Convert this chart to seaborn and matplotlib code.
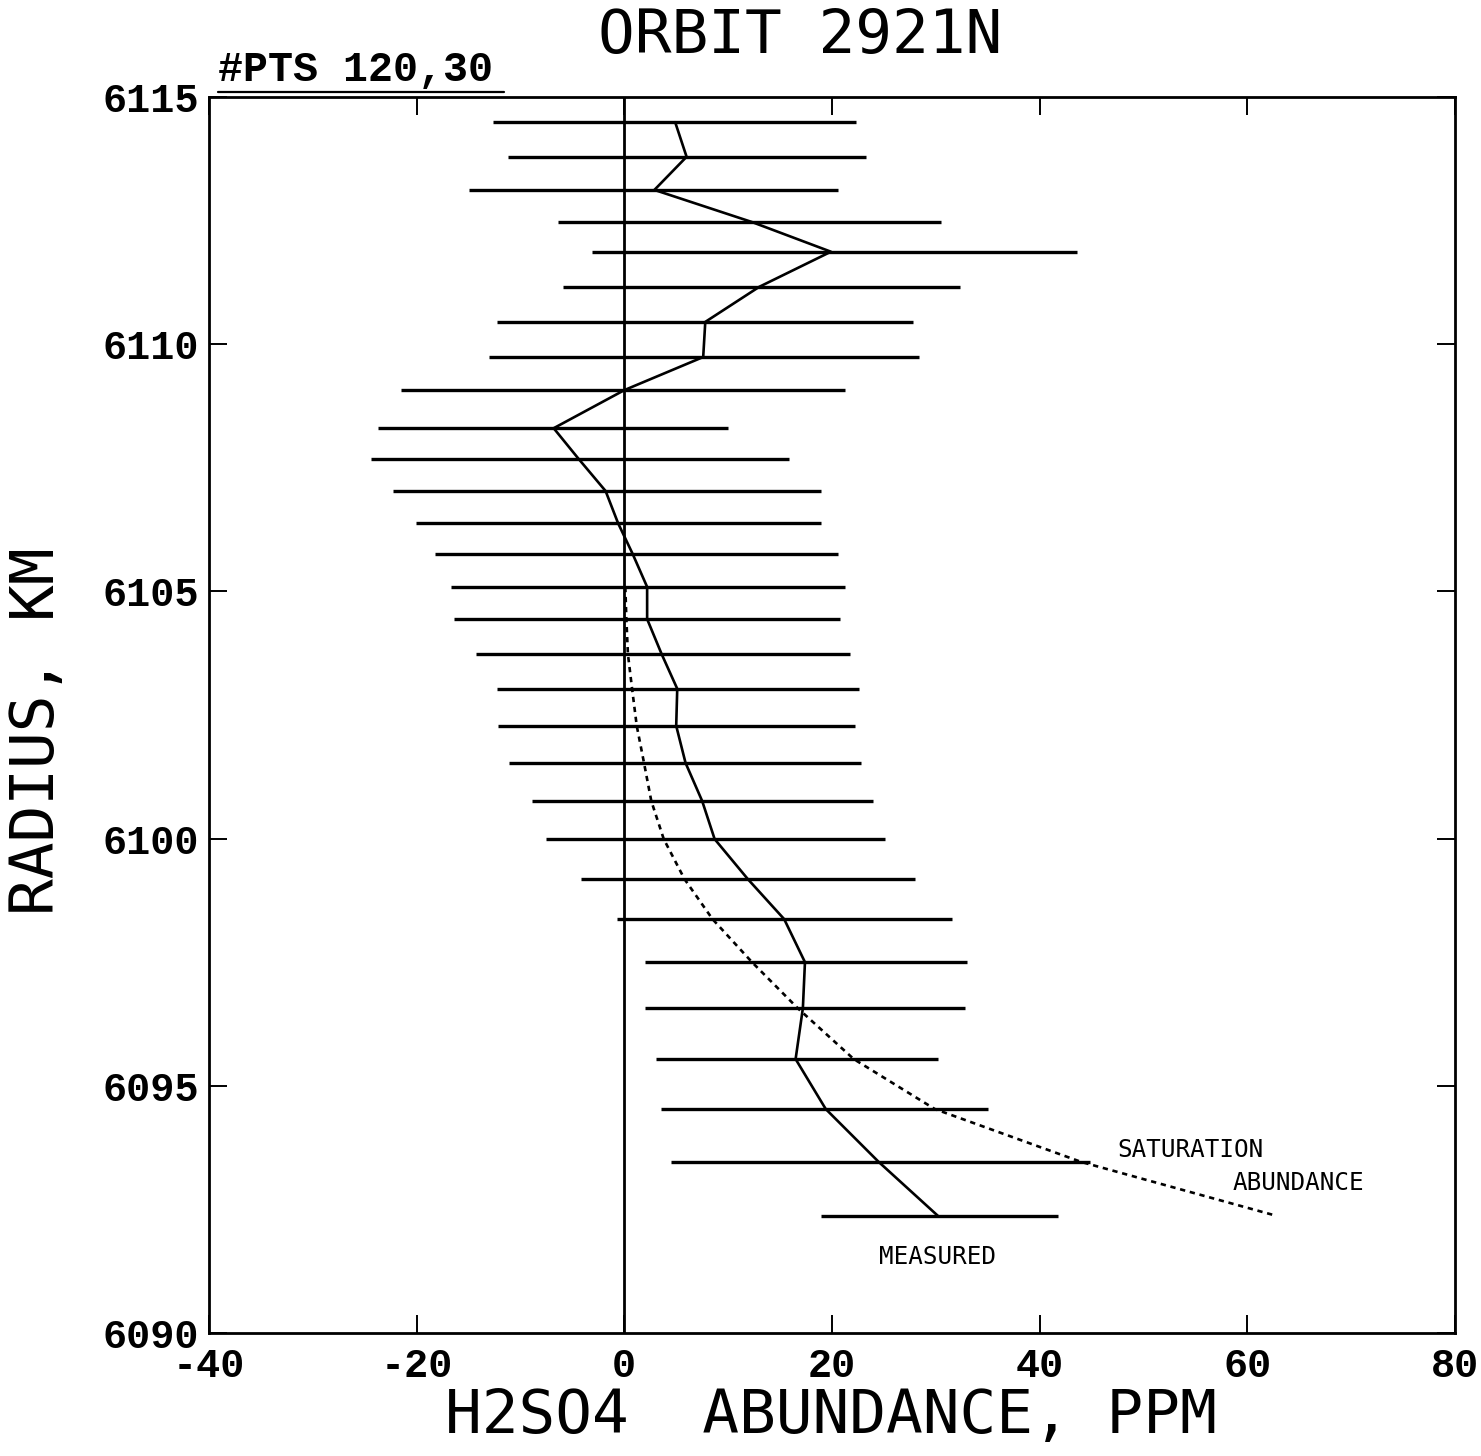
import numpy as np
import pandas as pd
import matplotlib
matplotlib.use("Agg")
import matplotlib.pyplot as plt
import seaborn as sns

# ---- data ----
radius = [6114.49, 6113.79, 6113.12, 6112.47, 6111.87, 6111.16, 6110.45, 6109.74,
          6109.07, 6108.30, 6107.68, 6107.03, 6106.38, 6105.76, 6105.09, 6104.44,
          6103.73, 6103.03, 6102.28, 6101.53, 6100.76, 6099.99, 6099.18, 6098.37,
          6097.50, 6096.57, 6095.54, 6094.53, 6093.46, 6092.37]
measured = [4.9, 6.0, 2.9, 12.3, 19.9, 13.0, 7.8, 7.6,
            0.0, -6.8, -4.4, -1.8, -0.6, 0.8, 2.2, 2.2,
            3.6, 5.1, 5.0, 5.9, 7.5, 8.7, 11.9, 15.4,
            17.4, 17.2, 16.5, 19.4, 24.5, 30.2]
err_low = [-12.6, -11.2, -15.0, -6.4, -3.1, -5.9, -12.3, -13.0,
           -21.5, -23.7, -24.4, -22.3, -20.1, -18.2, -16.7, -16.4,
           -14.3, -12.3, -12.2, -11.1, -8.9, -7.5, -4.2, -0.7,
           2.0, 2.0, 3.1, 3.5, 4.5, 18.9]
err_high = [22.3, 23.3, 20.6, 30.5, 43.6, 32.3, 27.8, 28.4,
            21.3, 10.0, 15.9, 18.9, 18.9, 20.6, 21.3, 20.8,
            21.7, 22.6, 22.2, 22.8, 24.0, 25.1, 28.0, 31.6,
            33.0, 32.8, 30.2, 35.0, 44.9, 41.8]
sat_radius = radius[14:]
saturation = [0.1, 0.2, 0.35, 0.75, 1.2, 1.9, 2.6, 3.8,
              5.8, 8.5, 12.3, 16.7, 22.1, 29.9, 44.0, 62.8]

x_ticks = [-40, -20, 0, 20, 40, 60, 80]
y_ticks = [6090, 6095, 6100, 6105, 6110, 6115]

title = "ORBIT 2921N"
pts_label = "#PTS 120,30"
x_label = "H2SO4  ABUNDANCE, PPM"
y_label = "RADIUS, KM"

# ---- style ----
sns.set_theme(style="ticks")
plt.rcParams["font.family"] = ["Liberation Mono", "DejaVu Sans Mono"]
plt.rcParams["axes.unicode_minus"] = False

fig = plt.figure(figsize=(14.81, 14.56), dpi=100)
fig.patch.set_facecolor("white")
ax = fig.add_axes([0.1411, 0.0845, 0.8413, 0.8489])
ax.set_facecolor("white")

meas_df = pd.DataFrame({"radius": radius, "abundance": measured})
sat_df = pd.DataFrame({"radius": sat_radius, "abundance": saturation})

# error bars
ax.hlines(radius, err_low, err_high, color="black", lw=2.4)
# zero line
ax.axvline(0, color="black", lw=2.0)
# measured profile
sns.lineplot(data=meas_df, x="abundance", y="radius", sort=False, estimator=None,
             color="black", lw=1.9, ax=ax)
# saturation abundance
sns.lineplot(data=sat_df, x="abundance", y="radius", sort=False, estimator=None,
             color="black", lw=1.9, linestyle=(0, (2.0, 1.8)), ax=ax)

ax.set_xlim(-40, 80)
ax.set_ylim(6090, 6115)
ax.set_xticks(x_ticks)
ax.set_yticks(y_ticks)
ax.set_xticklabels([str(v) for v in x_ticks], fontweight="bold")
ax.set_yticklabels([str(v) for v in y_ticks], fontweight="bold")
ax.tick_params(direction="in", length=13, width=1.4, top=True, right=True,
               labelsize=29, pad=7, colors="black")
ax.tick_params(axis="x", pad=10)
for s in ax.spines.values():
    s.set_color("black")
    s.set_linewidth(2.0)

ax.set_xlabel("")
ax.set_ylabel("")

# annotations
ax.text(47.5, 6093.70, "SATURATION", fontsize=17.5, family="DejaVu Sans Mono",
        va="center", ha="left", color="black")
ax.text(58.6, 6093.03, "ABUNDANCE", fontsize=17.5, family="DejaVu Sans Mono",
        va="center", ha="left", color="black")
ax.text(24.5, 6091.54, "MEASURED", fontsize=17.5, family="DejaVu Sans Mono",
        va="center", ha="left", color="black")

ax.text(0.007, 1.006, pts_label, transform=ax.transAxes, fontsize=30,
        fontweight="bold", va="bottom", ha="left", color="black")
ax.plot([0.007, 0.237], [1.004, 1.004], transform=ax.transAxes, color="black",
        lw=1.6, clip_on=False)

fig.text(0.540, 0.975, title, fontsize=44, family="DejaVu Sans Mono",
         ha="center", va="center", color="black")
fig.text(0.561, 0.027, x_label, fontsize=44, family="DejaVu Sans Mono",
         ha="center", va="center", color="black")
fig.text(0.025, 0.498, y_label, fontsize=44, family="DejaVu Sans Mono",
         ha="center", va="center", rotation=90, color="black")

fig.savefig("out.png", dpi=100, facecolor="white")
